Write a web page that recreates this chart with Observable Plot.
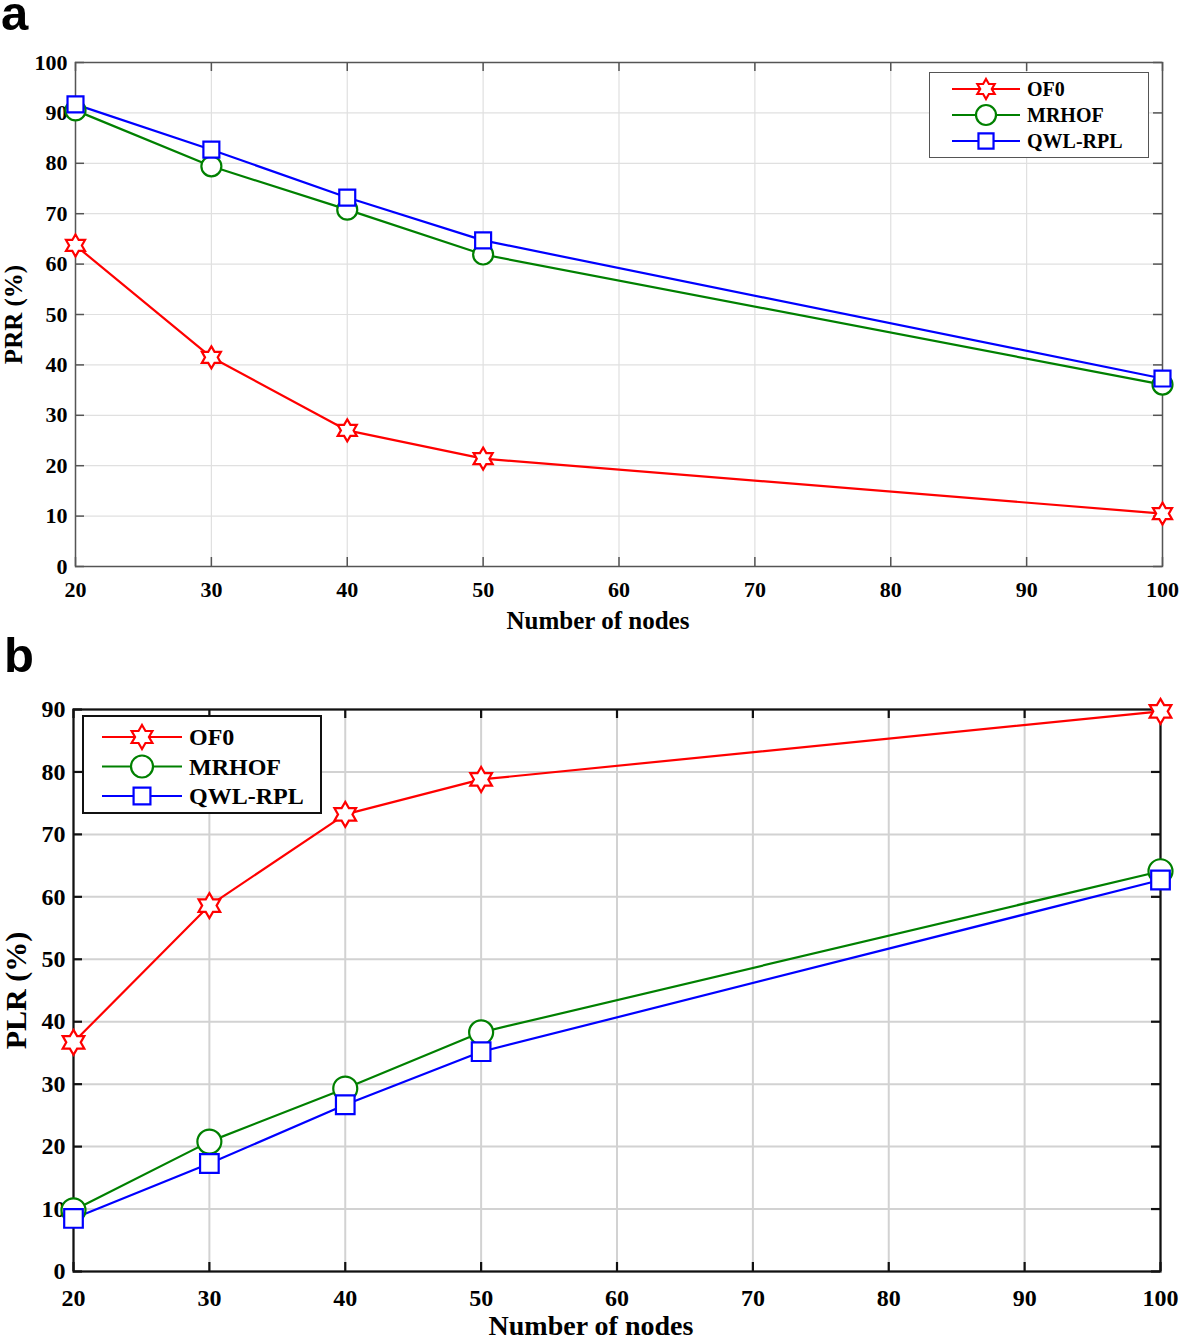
<!DOCTYPE html>
<html><head><meta charset="utf-8">
<script src="https://cdn.jsdelivr.net/npm/d3@7"></script>
<script src="https://cdn.jsdelivr.net/npm/@observablehq/plot@0.6"></script>
<style>
body{margin:0;background:#fff;}
#wrap{position:relative;width:1181px;height:1341px;overflow:hidden;font-family:"Liberation Serif","Times New Roman",serif;}
.panel{position:absolute;left:0;}
.tag{position:absolute;font-family:"Liberation Sans",Arial,sans-serif;font-weight:bold;font-size:49px;line-height:25px;}
.legend{position:absolute;}
#pa g[aria-label="x-axis label"] text{font-size:25px;}
#pa g[aria-label="y-axis label"] text{font-size:25px;}
#pb g[aria-label="x-axis label"] text{font-size:28px;}
#pb g[aria-label="y-axis label"] text{font-size:30px;}
</style></head>
<body><div id="wrap">
<div class="tag" style="left:1px;top:1px">a</div>
<div class="tag" style="left:4px;top:643px">b</div>
<div id="pa" class="panel" style="top:0"></div>
<div id="pb" class="panel" style="top:640px"></div>
</div>
<script>
// ---- data ----
const nodes = [20, 30, 40, 50, 100];
const seriesNames = ["OF0", "MRHOF", "QWL-RPL"];
const seriesColors = ["#ff0000", "#008000", "#0000ff"];
const prrOF0 = [63.7, 41.5, 27.0, 21.4, 10.5];
const prrMRHOF = [90.5, 79.4, 70.8, 61.9, 36.1];
const prrQWL = [91.7, 82.7, 73.2, 64.7, 37.3];
const plrOF0 = [36.7, 58.6, 73.2, 78.8, 89.7];
const plrMRHOF = [9.8, 20.8, 29.3, 38.3, 64.1];
const plrQWL = [8.5, 17.3, 26.7, 35.2, 62.7];
const xTicks = [20, 30, 40, 50, 60, 70, 80, 90, 100];
const prrTicks = [0, 10, 20, 30, 40, 50, 60, 70, 80, 90, 100];
const plrTicks = [0, 10, 20, 30, 40, 50, 60, 70, 80, 90];

// six-pointed star symbol
const hexagram = {
  draw(ctx, size) {
    const R = Math.sqrt(size / Math.PI), r = R / Math.sqrt(3);
    for (let i = 0; i < 12; i++) {
      const a = -Math.PI / 2 + i * Math.PI / 6, rad = i % 2 ? r : R;
      const x = rad * Math.cos(a), y = rad * Math.sin(a);
      i ? ctx.lineTo(x, y) : ctx.moveTo(x, y);
    }
    ctx.closePath();
  }
};
const symbols = [hexagram, d3.symbolCircle, d3.symbolSquare];

function rows(vals) {
  const out = [];
  vals.forEach((arr, s) => arr.forEach((v, i) => out.push({series: seriesNames[s], x: nodes[i], y: v})));
  return out;
}

function makePanel(o) {
  const data = rows(o.values);
  const W = 1181, pw = W - o.ml - o.mr, ph = o.height - o.mt - o.mb, tl = 9;
  const marks = [
    Plot.gridX(xTicks, {stroke: o.grid, strokeOpacity: 1, strokeWidth: o.gw}),
    Plot.gridY(o.yTicks, {stroke: o.grid, strokeOpacity: 1, strokeWidth: o.gw}),
    Plot.axisX(xTicks, {tickSize: 0, tickPadding: o.xpad, fontSize: o.fs, label: "Number of nodes", labelAnchor: "center", labelArrow: "none", labelOffset: o.xlo}),
    Plot.axisY(o.yTicks, {tickSize: 0, tickPadding: o.ypad, fontSize: o.fs, label: o.ylabel, labelAnchor: "center", labelArrow: "none", labelOffset: o.ylo}),
    Plot.ruleX(xTicks, {x: d => d, insetTop: ph - tl, stroke: o.frame, strokeWidth: o.fw}),
    Plot.ruleX(xTicks, {x: d => d, insetBottom: ph - tl, stroke: o.frame, strokeWidth: o.fw}),
    Plot.ruleY(o.yTicks, {y: d => d, insetRight: pw - tl, stroke: o.frame, strokeWidth: o.fw}),
    Plot.ruleY(o.yTicks, {y: d => d, insetLeft: pw - tl, stroke: o.frame, strokeWidth: o.fw}),
    Plot.frame({stroke: o.frame, strokeWidth: o.fw})
  ];
  seriesNames.forEach((name, s) => {
    const d = data.filter(r => r.series === name);
    marks.push(Plot.line(d, {x: "x", y: "y", stroke: seriesColors[s], strokeWidth: 2.2}));
  });
  seriesNames.forEach((name, s) => {
    const d = data.filter(r => r.series === name);
    marks.push(Plot.dot(d, {x: "x", y: "y", symbol: () => symbols[s], r: o.rs[s], stroke: seriesColors[s], fill: "white", strokeWidth: 2.2}));
  });
  const svg = Plot.plot({
    width: W, height: o.height, marginTop: o.mt, marginBottom: o.mb, marginLeft: o.ml, marginRight: o.mr,
    x: {domain: [20, 100]}, y: {domain: o.yDomain},
    symbol: {type: "identity"},
    style: {fontFamily: "'Liberation Serif','Times New Roman',serif", fontWeight: "bold", color: "#000", background: "transparent", overflow: "visible"},
    marks
  });
  // nudge the x-axis title left, as in the original figure
  const g = svg.querySelector('g[aria-label="x-axis label"]');
  if (g) g.setAttribute("transform", `translate(${o.xshift},0) ` + (g.getAttribute("transform") || ""));
  return svg;
}

function legend(o) {
  const div = document.createElement("div");
  div.className = "legend";
  Object.assign(div.style, {left: o.x + "px", top: o.y + "px", width: o.w + "px", height: o.h + "px",
    border: o.bw + "px solid " + o.bc, background: "#fff", boxSizing: "border-box"});
  const svg = d3.select(div).append("svg").attr("width", o.w - 2 * o.bw).attr("height", o.h - 2 * o.bw)
    .style("position", "absolute").style("left", "0").style("top", "0");
  seriesNames.forEach((name, s) => {
    const cy = o.y0 + s * o.dy;
    svg.append("line").attr("x1", o.lx1).attr("x2", o.lx2).attr("y1", cy).attr("y2", cy)
      .attr("stroke", seriesColors[s]).attr("stroke-width", 2.2);
    const R = o.rs[s];
    svg.append("path").attr("transform", `translate(${(o.lx1 + o.lx2) / 2},${cy})`)
      .attr("d", d3.symbol(symbols[s], R * R * Math.PI)())
      .attr("fill", "white").attr("stroke", seriesColors[s]).attr("stroke-width", 2.2);
    svg.append("text").attr("x", o.tx).attr("y", cy).attr("dy", "0.35em")
      .attr("font-family", "'Liberation Serif','Times New Roman',serif").attr("font-weight", "bold")
      .attr("font-size", o.fs).text(name);
  });
  return div;
}

const pa = makePanel({values: [prrOF0, prrMRHOF, prrQWL], yDomain: [0, 100], yTicks: prrTicks, ylabel: "PRR (%)",
  height: 640, mt: 62, mb: 74, ml: 75, mr: 19, frame: "#555", fw: 1.5, grid: "#e0e0e0", gw: 1.2,
  fs: 22, xpad: 15, ypad: 8, xlo: 62, ylo: 71, xshift: -21, rs: [11, 10, 9]});
document.getElementById("pa").appendChild(pa);

const pb = makePanel({values: [plrOF0, plrMRHOF, plrQWL], yDomain: [0, 90], yTicks: plrTicks, ylabel: "PLR (%)",
  height: 701, mt: 69, mb: 70, ml: 73, mr: 21, frame: "#111", fw: 2.2, grid: "#d2d2d2", gw: 2,
  fs: 24, xpad: 17, ypad: 8, xlo: 63, ylo: 69, xshift: -26, rs: [12.5, 12, 10.5]});
document.getElementById("pb").appendChild(pb);

const wrap = document.getElementById("wrap");
wrap.appendChild(legend({x: 929, y: 72, w: 220, h: 86, bw: 1.5, bc: "#555", y0: 16, dy: 26, lx1: 22, lx2: 90, tx: 97, fs: 20, rs: [10, 10, 8.5]}));
wrap.appendChild(legend({x: 82, y: 715, w: 240, h: 99, bw: 2.2, bc: "#111", y0: 20, dy: 29.5, lx1: 18, lx2: 98, tx: 105, fs: 24, rs: [12, 11, 9.5]}));
</script>
</body></html>
